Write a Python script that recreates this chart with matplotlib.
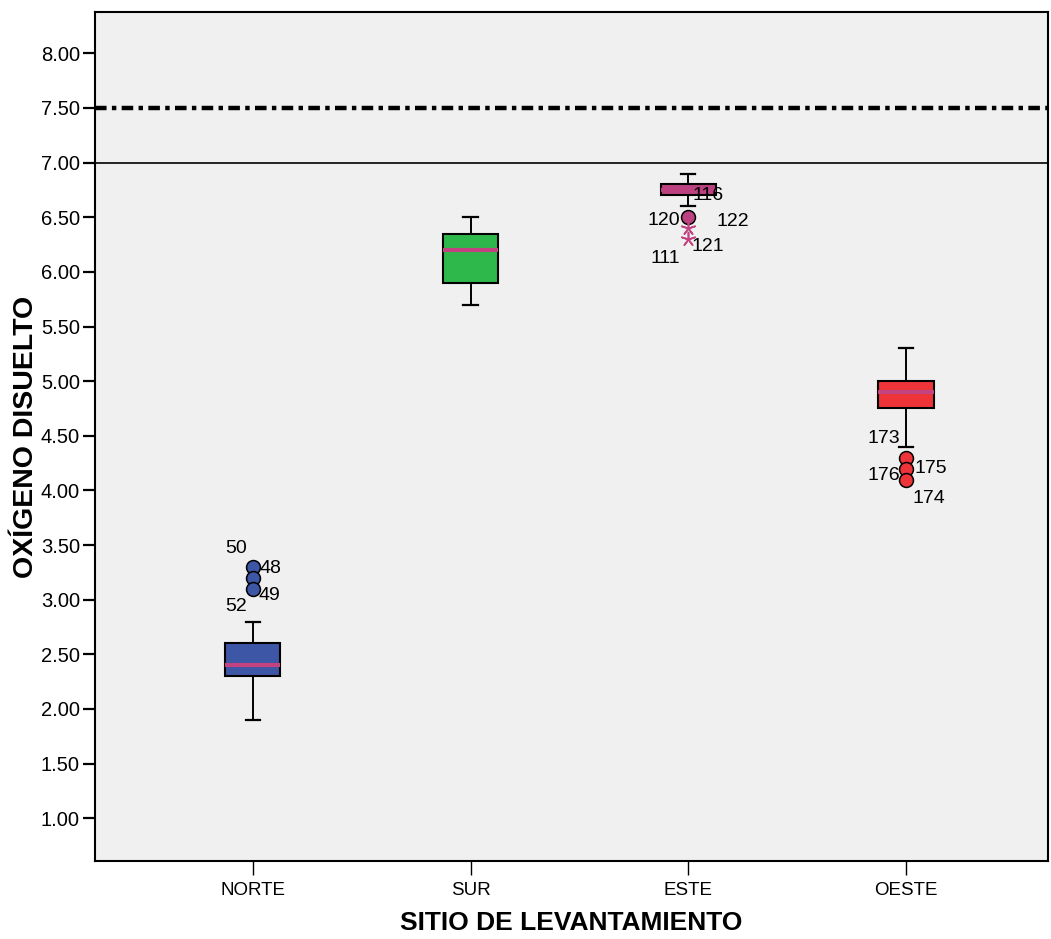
import matplotlib
matplotlib.use("Agg")
import matplotlib.pyplot as plt

# ---- data ----
categories = ["NORTE", "SUR", "ESTE", "OESTE"]
q1 = [2.30, 5.90, 6.70, 4.75]
medians = [2.40, 6.20, 6.75, 4.90]
q3 = [2.60, 6.35, 6.80, 5.00]
whisker_low = [1.90, 5.70, 6.60, 4.40]
whisker_high = [2.80, 6.50, 6.90, 5.30]

# outliers (circles) per category
outliers = [[3.30, 3.20, 3.10], [], [6.50], [4.30, 4.20, 4.10]]
# extreme values (stars)
extremes = [[], [], [6.40, 6.30], []]

# case labels: (category index, value, label)
case_labels = [
    (0, 3.30, "50"), (0, 3.30, "48"), (0, 3.10, "49"), (0, 3.10, "52"),
    (2, 6.50, "116"), (2, 6.50, "120"), (2, 6.50, "122"), (2, 6.30, "121"), (2, 6.30, "111"),
    (3, 4.30, "173"), (3, 4.20, "175"), (3, 4.10, "176"), (3, 4.10, "174"),
]
label_offsets = {  # pixel offsets (style only)
    "50": (-17, 18), "48": (18, -2), "49": (17, -7), "52": (-17, -18),
    "116": (20, 22), "120": (-24, -3), "122": (45, -4), "121": (20, -7), "111": (-23, -19),
    "173": (-22, 19), "175": (25, 0), "176": (-22, 4), "174": (23, -19),
}

ref_dashdot = 7.5
ref_solid = 7.0

box_colors = ["#3D56A6", "#2EB84B", "#BB4180", "#EE3439"]
median_colors = ["#C2437F", "#C2437F", "#BB4180", "#C2437F"]
star_color = "#C2437F"

plt.rcParams["font.family"] = ["Liberation Sans", "DejaVu Sans"]

fig = plt.figure(figsize=(10.51, 9.39), dpi=100)
ax = fig.add_axes([94.5 / 1051, 78 / 939, (1048 - 94.5) / 1051, (861 - 12) / 939])
ax.set_facecolor("#F0F0F0")

positions = list(range(1, len(categories) + 1))
stats = []
for i, c in enumerate(categories):
    stats.append(dict(label=c, med=medians[i], q1=q1[i], q3=q3[i],
                      whislo=whisker_low[i], whishi=whisker_high[i], fliers=[]))

bp = ax.bxp(stats, positions=positions, widths=0.253, capwidths=0.065,
            showfliers=False, patch_artist=True,
            boxprops=dict(edgecolor="black", linewidth=1.5),
            whiskerprops=dict(color="black", linewidth=1.4),
            capprops=dict(color="black", linewidth=1.6),
            medianprops=dict(linewidth=3.0))
for i, patch in enumerate(bp["boxes"]):
    patch.set_facecolor(box_colors[i])
for i, med in enumerate(bp["medians"]):
    med.set_color(median_colors[i])
    med.set_solid_capstyle("butt")
for i in range(len(categories)):
    if outliers[i]:
        ax.scatter([positions[i]] * len(outliers[i]), outliers[i], s=100,
                   facecolor=box_colors[i], edgecolor="black", linewidth=1.1, zorder=4)
    if extremes[i]:
        ax.scatter([positions[i]] * len(extremes[i]), extremes[i], s=100,
                   marker=(5, 2, 0), color=star_color, linewidth=1.2, zorder=4)

for ci, val, lab in case_labels:
    dx, dy = label_offsets[lab]
    ax.annotate(lab, (positions[ci], val), xytext=(dx, dy), textcoords="offset pixels",
                ha="center", va="center", fontsize=14, color="black", zorder=5)

ax.axhline(ref_dashdot, color="black", linewidth=3.2, linestyle=(0, (2.6, 1.2, 1.0, 1.2)), zorder=3)
ax.axhline(ref_solid, color="black", linewidth=1.2, zorder=3)

ax.set_xlim(0.273, 4.652)
ax.set_ylim(0.609, 8.378)
ax.set_yticks([1.0, 1.5, 2.0, 2.5, 3.0, 3.5, 4.0, 4.5, 5.0, 5.5, 6.0, 6.5, 7.0, 7.5, 8.0])
ax.set_yticklabels([f"{v:.2f}" for v in ax.get_yticks()])
ax.set_xticks(positions)
ax.set_xticklabels(categories)
ax.tick_params(axis="y", direction="out", length=8.5, width=1.6, labelsize=14.5, pad=2)
ax.tick_params(axis="x", direction="out", length=10, width=1.0, labelsize=13.5, pad=5)
for s in ax.spines.values():
    s.set_linewidth(1.5)
    s.set_color("black")

ax.set_ylabel("OXÍGENO DISUELTO", fontsize=20.5, fontweight="bold", labelpad=1.5)
ax.set_xlabel("SITIO DE LEVANTAMIENTO", fontsize=19, fontweight="bold", labelpad=9)

fig.savefig("out.png", dpi=100)
